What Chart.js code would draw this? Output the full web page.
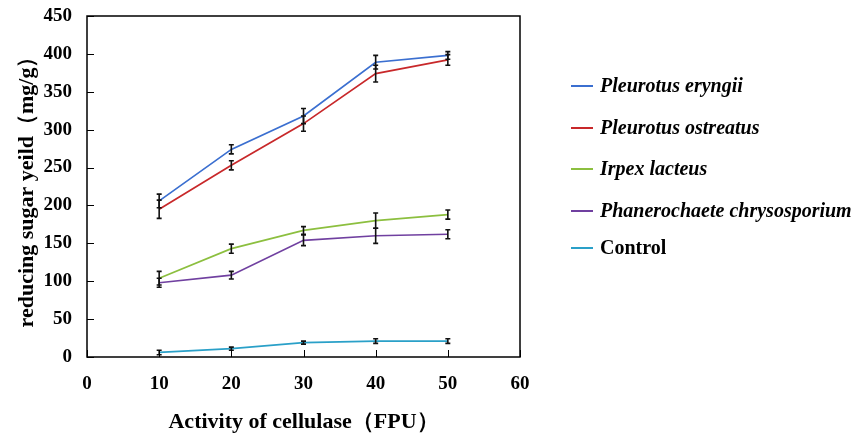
<!DOCTYPE html>
<html lang="en">
<head>
    <meta charset="UTF-8">
    <title>Reducing sugar yield</title>
    <script src="https://cdn.jsdelivr.net/npm/chart.js"></script>
    <style>
        html, body { margin: 0; padding: 0; background: #fff; }
        #wrap { position: relative; width: 854px; height: 436px; }
        #legend { position: absolute; left: 571px; top: 0; font-family: "Liberation Serif", "DejaVu Serif", serif; font-weight: bold; font-size: 20px; color: #000; }
        #legend .item { position: absolute; white-space: nowrap; left: 0; }
        #legend .swatch { position: absolute; left: 0; top: 0; width: 22px; height: 2px; }
        #legend .txt { position: absolute; left: 29px; top: -12px; line-height: 24px; }
    </style>
</head>
<body>
<div id="wrap">
    <canvas id="sugarChart" width="854" height="436"></canvas>
    <div id="legend"></div>
</div>

<script>
    const xValues = [10, 20, 30, 40, 50];
    const seriesNames = ["Pleurotus eryngii", "Pleurotus ostreatus", "Irpex lacteus", "Phanerochaete chrysosporium", "Control"];
    const seriesItalic = [true, true, true, true, false];
    const seriesColors = ["#3b6fd0", "#c8282a", "#8cbf3f", "#7040a0", "#2aa0c8"];

    const eryngii = [206, 274, 318, 389, 398];
    const ostreatus = [195, 253, 308, 374, 392];
    const lacteus = [104, 143, 167, 180, 188];
    const chrysosporium = [98, 108, 154, 160, 162];
    const control = [6, 11, 19, 21, 21];

    const eryngiiErr = [9, 6, 10, 9, 5];
    const ostreatusErr = [12, 6, 10, 11, 7];
    const lacteusErr = [9, 6, 5, 10, 6];
    const chrysosporiumErr = [6, 5, 7, 10, 6];
    const controlErr = [3, 2, 2, 3, 3];

    const yTicks = [0, 50, 100, 150, 200, 250, 300, 350, 400, 450];
    const xTicks = [0, 10, 20, 30, 40, 50, 60];

    const allValues = [eryngii, ostreatus, lacteus, chrysosporium, control];
    const allErrors = [eryngiiErr, ostreatusErr, lacteusErr, chrysosporiumErr, controlErr];

    const serif = "'Liberation Serif', 'DejaVu Serif', serif";

    // error bars, box and inward ticks
    const extras = {
        id: "extras",
        afterDatasetsDraw(chart) {
            const ctx = chart.ctx;
            const xs = chart.scales.x, ys = chart.scales.y;
            ctx.save();
            ctx.strokeStyle = "#111";
            ctx.lineWidth = 1.6;
            allValues.forEach((vals, i) => {
                vals.forEach((v, j) => {
                    const px = xs.getPixelForValue(xValues[j]);
                    const top = ys.getPixelForValue(v + allErrors[i][j]);
                    const bot = ys.getPixelForValue(v - allErrors[i][j]);
                    ctx.beginPath();
                    ctx.moveTo(px, top); ctx.lineTo(px, bot);
                    ctx.moveTo(px - 2.5, top); ctx.lineTo(px + 2.5, top);
                    ctx.moveTo(px - 2.5, bot); ctx.lineTo(px + 2.5, bot);
                    ctx.stroke();
                });
            });
            ctx.restore();
        },
        afterDraw(chart) {
            const ctx = chart.ctx;
            const a = chart.chartArea;
            const xs = chart.scales.x, ys = chart.scales.y;
            ctx.save();
            ctx.strokeStyle = "#000";
            ctx.lineWidth = 1.5;
            ctx.strokeRect(a.left, a.top, a.right - a.left, a.bottom - a.top);
            ctx.lineWidth = 1;
            ctx.beginPath();
            yTicks.forEach(t => {
                const py = Math.round(ys.getPixelForValue(t)) + 0.5;
                ctx.moveTo(a.left, py); ctx.lineTo(a.left + 7, py);
            });
            xTicks.forEach(t => {
                const px = Math.round(xs.getPixelForValue(t)) + 0.5;
                ctx.moveTo(px, a.bottom); ctx.lineTo(px, a.bottom - 7);
            });
            ctx.stroke();
            ctx.restore();
        }
    };

    const datasets = seriesNames.map((name, i) => ({
        label: name,
        data: xValues.map((x, j) => ({ x: x, y: allValues[i][j] })),
        borderColor: seriesColors[i],
        backgroundColor: seriesColors[i],
        borderWidth: 1.7,
        pointRadius: 0,
        tension: 0,
        fill: false
    }));

    new Chart(document.getElementById("sugarChart"), {
        type: "line",
        data: { datasets: datasets },
        options: {
            responsive: false,
            animation: false,
            layout: { padding: { left: 0, top: 16, right: 334, bottom: 0 } },
            plugins: { legend: { display: false }, tooltip: { enabled: false } },
            scales: {
                x: {
                    type: "linear",
                    min: 0, max: 60,
                    afterBuildTicks(scale) { scale.ticks = xTicks.map(v => ({ value: v })); },
                    afterFit(scale) { scale.height = 79; scale.paddingLeft = 0; scale.paddingRight = 0; },
                    grid: { display: false, drawTicks: false },
                    border: { display: false },
                    ticks: { color: "#000", padding: 16, font: { family: serif, size: 19, weight: "bold" } },
                    title: {
                        display: true,
                        text: "Activity of cellulase（FPU）",
                        color: "#000",
                        padding: { top: 0, bottom: 0 },
                        font: { family: serif, size: 22, weight: "bold" }
                    }
                },
                y: {
                    min: 0, max: 450,
                    afterBuildTicks(scale) { scale.ticks = yTicks.map(v => ({ value: v })); },
                    afterFit(scale) { scale.width = 87; scale.paddingTop = 0; scale.paddingBottom = 0; },
                    grid: { display: false, drawTicks: false },
                    border: { display: false },
                    ticks: { color: "#000", padding: 15, font: { family: serif, size: 19, weight: "bold" } },
                    title: {
                        display: true,
                        text: "reducing sugar yeild（mg/g）",
                        color: "#000",
                        padding: { top: 14, bottom: 0 },
                        font: { family: serif, size: 22, weight: "bold" }
                    }
                }
            }
        },
        plugins: [extras]
    });

    // legend on the right
    const legendTops = [85, 127, 168, 210, 247];
    const legend = document.getElementById("legend");
    seriesNames.forEach((name, i) => {
        const item = document.createElement("div");
        item.className = "item";
        item.style.top = legendTops[i] + "px";
        const sw = document.createElement("div");
        sw.className = "swatch";
        sw.style.background = seriesColors[i];
        const tx = document.createElement("div");
        tx.className = "txt";
        tx.textContent = name;
        tx.style.fontStyle = seriesItalic[i] ? "italic" : "normal";
        item.appendChild(sw);
        item.appendChild(tx);
        legend.appendChild(item);
    });
</script>
</body>
</html>
